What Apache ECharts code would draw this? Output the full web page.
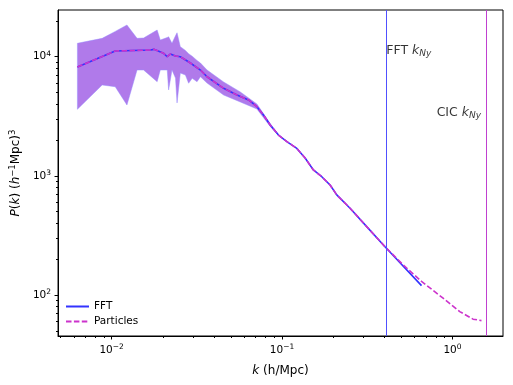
<!DOCTYPE html>
<html>
<head>
<meta charset="utf-8">
<script src="https://cdn.jsdelivr.net/npm/echarts@6/dist/echarts.min.js"></script>
<style>
  html, body { margin: 0; padding: 0; background: #fff; }
  #main { width: 513px; height: 385px; }
</style>
</head>
<body>
<div id="main"></div>
<script>
// power spectrum, FFT estimate (k in h/Mpc, P in (Mpc/h)^3)
const fftK = [0.0063, 0.0105, 0.0169, 0.0177, 0.0202, 0.0212, 0.0221, 0.0237, 0.0253, 0.029,
  0.0332, 0.0363, 0.0454, 0.0544, 0.0636, 0.0712, 0.0778, 0.0852, 0.0953, 0.1067,
  0.1221, 0.1365, 0.1527, 0.171, 0.1913, 0.2094, 0.2506, 0.3137, 0.403, 0.658]
const fftP = [8200, 11160, 11380, 11530, 10680, 10000, 10540, 10140, 10000, 8850,
  7730, 6790, 5430, 4770, 4340, 3810, 3240, 2670, 2200, 1940,
  1700, 1410, 1120, 984, 839, 692, 535, 375, 253, 120]

// power spectrum from particles
const partK = [0.0063, 0.0105, 0.0169, 0.0177, 0.0202, 0.0212, 0.0221, 0.0237, 0.0253, 0.029,
  0.0332, 0.0363, 0.0454, 0.0544, 0.0636, 0.0712, 0.0778, 0.0852, 0.0953, 0.1067,
  0.1221, 0.1365, 0.1527, 0.171, 0.1913, 0.2094, 0.2506, 0.3137, 0.403, 0.514,
  0.658, 0.881, 1.103, 1.32, 1.479]
const partP = [8200, 11160, 11380, 11530, 10680, 10000, 10540, 10140, 10000, 8850,
  7730, 6790, 5430, 4770, 4340, 3810, 3240, 2670, 2200, 1940,
  1700, 1410, 1120, 984, 839, 692, 535, 375, 253, 179,
  130, 94, 72.6, 62.7, 61]

// scatter band (both estimates overlap)
const bandK = [0.0063, 0.0088, 0.0105, 0.0123, 0.0141, 0.0154, 0.0185, 0.0193, 0.0212, 0.0216,
  0.0226, 0.0237, 0.0242, 0.0253, 0.0271, 0.0283, 0.0297, 0.0317, 0.0332, 0.0363,
  0.0454, 0.0569, 0.0712, 0.0852, 0.0953]
const bandHi = [12960, 14260, 16300, 18450, 14260, 14350, 16750, 13800, 14500, 14700,
  12960, 15000, 15880, 12130, 11300, 10600, 10100, 9300, 8850, 7730,
  6140, 5060, 4010, 2750, 2220]
const bandLo = [3620, 5790, 5600, 3935, 7735, 7735, 6170, 7735, 7735, 5260,
  7735, 6620, 4090, 7300, 7020, 5990, 6590, 6170, 6790, 6010,
  4770, 4170, 3640, 2600, 2180]

const kNyFFT = 0.403
const kNyCIC = 1.595

const xMajor = [0.01, 0.1, 1]
const yMajor = [100, 1000, 10000]

const lg = Math.log10
function minorOf(major, lo, hi) {
  let out = []
  let first = major[0] / 10
  for (let d = first; d <= major[major.length - 1] * 10; d *= 10) {
    for (let m = 2; m <= 9; m++) {
      let v = m * d
      if (v >= lo && v <= hi) out.push(lg(v))
    }
  }
  return out
}

const xMin = -2.3144, xMax = 0.2963
const yMin = 1.656, yMax = 4.392

function powLabel(v) {
  let e = Math.round(v)
  return '{b|10}{s|' + String(e).replace('-', '\u2212') + '}'
}
const labelRich = {
  b: { fontSize: 10.5, color: '#000', fontFamily: 'DejaVu Sans' },
  s: { fontSize: 7.5, color: '#000', fontFamily: 'DejaVu Sans', verticalAlign: 'top', padding: [0, 0, 6, 0] }
}

const pair = (ks, ps) => ks.map((k, i) => [lg(k), lg(ps[i])])

let chart = echarts.init(document.getElementById('main'))
let option = {
  animation: false,
  grid: { left: 57, right: 10, top: 10, bottom: 49, show: true, borderColor: '#000', borderWidth: 1 },
  legend: {
    data: ['FFT', 'Particles'],
    orient: 'vertical',
    left: 65, top: 301, padding: 0,
    itemWidth: 23, itemHeight: 12, itemGap: 4,
    itemStyle: { opacity: 0 },
    textStyle: { fontSize: 10.5, fontFamily: 'DejaVu Sans', color: '#000' }
  },
  xAxis: [{
    type: 'value', min: xMin, max: xMax,
    axisLine: { onZero: false, lineStyle: { color: '#000' } },
    splitLine: { show: false },
    axisTick: { length: 3.5, lineStyle: { color: '#000' }, customValues: xMajor.map(lg) },
    axisLabel: { customValues: xMajor.map(lg), formatter: powLabel, rich: labelRich, margin: 7 },
    name: '{i|k}{n| (h/Mpc)}',
    nameLocation: 'middle', nameGap: 29,
    nameTextStyle: { rich: {
      i: { fontSize: 12, fontStyle: 'italic', fontFamily: 'DejaVu Sans', color: '#000' },
      n: { fontSize: 12, fontFamily: 'DejaVu Sans', color: '#000' }
    } }
  }, {
    type: 'value', min: xMin, max: xMax, position: 'bottom',
    axisLine: { show: false, onZero: false }, splitLine: { show: false },
    axisTick: { length: 2, lineStyle: { color: '#000' }, customValues: minorOf(xMajor, 0.0049, 1.97) },
    axisLabel: { show: false }
  }],
  yAxis: [{
    type: 'value', min: yMin, max: yMax,
    axisLine: { show: true, onZero: false, lineStyle: { color: '#000' } },
    splitLine: { show: false },
    axisTick: { show: true, length: 3.5, lineStyle: { color: '#000' }, customValues: yMajor.map(lg) },
    axisLabel: { customValues: yMajor.map(lg), formatter: powLabel, rich: labelRich, margin: 7 },
    name: '{i|P}{n|(}{i|k}{n|) (}{i|h}{s|\u22121}{n|Mpc)}{s|3}',
    nameLocation: 'middle', nameGap: 33, nameRotate: 90,
    nameTextStyle: { rich: {
      i: { fontSize: 12, fontStyle: 'italic', fontFamily: 'DejaVu Sans', color: '#000' },
      n: { fontSize: 12, fontFamily: 'DejaVu Sans', color: '#000' },
      s: { fontSize: 8.5, fontFamily: 'DejaVu Sans', color: '#000', verticalAlign: 'top', padding: [0, 0, 7, 0] }
    } }
  }, {
    type: 'value', min: yMin, max: yMax, position: 'left',
    axisLine: { show: false, onZero: false }, splitLine: { show: false },
    axisTick: { show: true, length: 2, lineStyle: { color: '#000' }, customValues: minorOf(yMajor, 46, 24000) },
    axisLabel: { show: false }
  }],
  series: [
    {
      // band polygon: upper edge forwards, lower edge backwards
      type: 'custom', silent: true, z: 1,
      data: [[lg(bandK[0]), lg(bandLo[0])]],
      renderItem: function (params, api) {
        let pts = []
        bandK.forEach((k, i) => pts.push(api.coord([lg(k), lg(bandHi[i])])))
        for (let i = bandK.length - 1; i >= 0; i--) pts.push(api.coord([lg(bandK[i]), lg(bandLo[i])]))
        return { type: 'polygon', shape: { points: pts }, style: { fill: 'rgb(176,122,234)', stroke: 'rgba(150,140,255,0.6)', lineWidth: 0.8 } }
      }
    },
    {
      name: 'FFT', type: 'line', data: pair(fftK, fftP), z: 3,
      symbol: 'none', lineStyle: { color: '#3333ff', width: 1.6 }, itemStyle: { color: '#3333ff' },
      markLine: {
        silent: true, symbol: 'none', label: { show: false },
        lineStyle: { color: '#5050ff', width: 1, type: 'solid' },
        data: [{ xAxis: lg(kNyFFT) }]
      }
    },
    {
      name: 'Particles', type: 'line', data: pair(partK, partP), z: 4,
      symbol: 'none', lineStyle: { color: '#cc33cc', width: 1.6, type: [5.5, 2.4] }, itemStyle: { color: '#cc33cc' },
      markLine: {
        silent: true, symbol: 'none', label: { show: false },
        lineStyle: { color: '#c040d0', width: 1, type: 'solid' },
        data: [{ xAxis: lg(kNyCIC) }]
      }
    },
    {
      type: 'scatter', symbolSize: 0, silent: true, z: 5,
      data: [
        { value: [lg(kNyFFT), 4.048], label: { position: 'right', distance: 1 } },
        { value: [lg(kNyCIC), 3.528], label: { position: 'left', distance: 6 } }
      ],
      label: {
        show: true,
        formatter: p => p.dataIndex === 0 ? '{n|FFT }{i|k}{u|Ny}' : '{n|CIC }{i|k}{u|Ny}',
        rich: {
          n: { fontSize: 12.5, fontFamily: 'DejaVu Sans', color: '#000' },
          i: { fontSize: 12.5, fontStyle: 'italic', fontFamily: 'DejaVu Sans', color: '#000' },
          u: { fontSize: 9, fontStyle: 'italic', fontFamily: 'DejaVu Sans', color: '#000', verticalAlign: 'bottom', padding: [6, 0, 0, 0] }
        }
      }
    }
  ]
}
chart.setOption(option)
</script>
</body>
</html>
